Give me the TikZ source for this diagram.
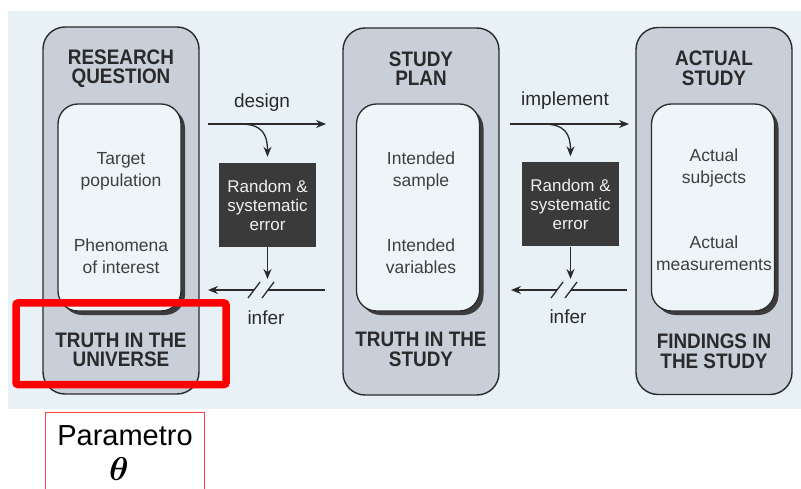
\documentclass[tikz,border=0pt]{standalone}
\usepackage{graphicx}
\usepackage{fontspec}
\setmainfont{Liberation Sans}
\usetikzlibrary{arrows.meta,calc}
\definecolor{panel}{HTML}{E8F2F6}
\definecolor{boxgray}{HTML}{C8CFD9}
\definecolor{innerfill}{HTML}{EEF5F8}
\definecolor{ink}{HTML}{2A2A2A}
\definecolor{errfill}{HTML}{3A3A3A}
\definecolor{shadowc}{HTML}{3C3C3C}
\tikzset{
  outerbox/.style={draw=ink, line width=1.4pt, fill=boxgray, rounded corners=22pt,
    minimum width=156pt, minimum height=367pt, inner sep=0pt},
  innerbox/.style={draw=ink, line width=1.3pt, fill=innerfill, rounded corners=20pt,
    minimum width=123pt, minimum height=207pt, inner sep=0pt},
  shadowbox/.style={fill=shadowc, rounded corners=20pt,
    minimum width=123pt, minimum height=207pt, inner sep=0pt},
  errbox/.style={fill=errfill, minimum width=97pt, minimum height=84pt, inner sep=0pt,
    text=white!94!black, align=center, font=\fontsize{17}{19}\selectfont},
  boxtitle/.style={align=center, text=ink, font=\fontsize{21}{19.5}\selectfont\bfseries\addfontfeature{FakeStretch=0.9}, inner sep=0pt},
  bodytext/.style={align=center, text=ink!90, font=\fontsize{17.5}{22}\selectfont, inner sep=0pt},
  lbl/.style={text=ink, font=\fontsize{19}{20}\selectfont, inner sep=0pt},
  arr/.style={draw=ink, line width=1.3pt, -{Stealth[length=10pt,width=8pt]}},
  plain/.style={draw=ink, line width=1.3pt},
}
\begin{document}
\begin{tikzpicture}[x=1pt,y=-1pt]
\useasboundingbox (0,0) rectangle (801,489);
\fill[white] (0,0) rectangle (801,489);
\fill[panel] (8,11) rectangle (801,409);

% outer boxes
\node[outerbox] (rq) at (121,210.5) {};
\node[outerbox] (sp) at (421,211.5) {};
\node[outerbox] (as) at (714,211) {};

% inner boxes with shadow
\node[shadowbox] at (123.5,211.5) {};
\node[innerbox] (rqi) at (119.5,207.5) {};
\node[shadowbox] at (422,211.5) {};
\node[innerbox] (spi) at (418,207.5) {};
\node[shadowbox] at (717,211.5) {};
\node[innerbox] (asi) at (713,207.5) {};

% titles
\node[boxtitle] (rqt) at (121,68.5) {RESEARCH\\QUESTION};
\node[boxtitle] (spt) at (421,68.5) {STUDY\\PLAN};
\node[boxtitle] (ast) at (714,68.5) {ACTUAL\\STUDY};
\node[boxtitle] (rqb) at (121,350) {TRUTH IN THE\\UNIVERSE};
\node[boxtitle] (spb) at (421,349.5) {TRUTH IN THE\\STUDY};
\node[boxtitle] (asb) at (714,351.5) {FINDINGS IN\\THE STUDY};

% body text
\node[bodytext] (rq1) at (121,171) {Target\\population};
\node[bodytext] (rq2) at (121,256) {Phenomena\\of interest};
\node[bodytext] (sp1) at (421,171) {Intended\\sample};
\node[bodytext] (sp2) at (421,256) {Intended\\variables};
\node[bodytext] (as1) at (714,168) {Actual\\subjects};
\node[bodytext] (as2) at (714,253) {Actual\\measurements};

% error boxes
\node[errbox] (err1) at (267.5,205) {Random \&\\systematic\\error};
\node[errbox] (err2) at (570.5,204.5) {Random \&\\systematic\\error};

% labels
\node[lbl] (ldesign) at (262,103) {design};
\node[lbl] (limpl) at (565,101) {implement};
\node[lbl] (linf1) at (266,318) {infer};
\node[lbl] (linf2) at (568,317) {infer};

% design connector
\coordinate (d1s) at (208,124);
\coordinate (d1e) at (326,124);
\coordinate (d1b) at (240,124);
\draw[arr] (d1s) -- (d1e);
\draw[arr] (d1b) .. controls (262,124) and (267.5,134) .. ([yshift=6pt]err1.north);
% infer connector 1
\coordinate (i1s) at (325,290);
\coordinate (i1m) at (268,290);
\coordinate (i1n) at (254,290);
\coordinate (i1e) at (208,290);
\coordinate (i1d) at (267.5,279);
\draw[arr] (err1.south) -- (i1d);
\draw[plain] (i1s) -- (i1m);
\draw[arr] (i1n) -- (i1e);
\draw[plain] (248,298) -- (260,282);
\draw[plain] (262,298) -- (274,282);

% implement connector
\coordinate (d2s) at (510,124);
\coordinate (d2e) at (629,124);
\coordinate (d2b) at (543,124);
\draw[arr] (d2s) -- (d2e);
\draw[arr] (d2b) .. controls (565,124) and (570.5,134) .. ([yshift=6pt]err2.north);
% infer connector 2
\coordinate (i2s) at (627,290);
\coordinate (i2m) at (571,290);
\coordinate (i2n) at (557,290);
\coordinate (i2e) at (511,290);
\coordinate (i2d) at (570.5,279);
\draw[arr] (err2.south) -- (i2d);
\draw[plain] (i2s) -- (i2m);
\draw[arr] (i2n) -- (i2e);
\draw[plain] (551,298) -- (563,282);
\draw[plain] (565,298) -- (577,282);

% red highlight
\draw[red, line width=7.5pt, rounded corners=2pt] (16,303) rectangle (226,384.5);

% parametro box
\draw[red!75!white, line width=0.8pt] (45.7,492) -- (45.7,412.7) -- (204.3,412.7) -- (204.3,492);
\node[inner sep=0pt, font=\fontsize{29}{32}\selectfont] (param) at (125,436) {Parametro};
\node[inner sep=0pt] (theta) at (119,469) {\scalebox{3.3}{\fontsize{10}{12}\selectfont\boldmath$\theta$}};
\end{tikzpicture}
\end{document}
